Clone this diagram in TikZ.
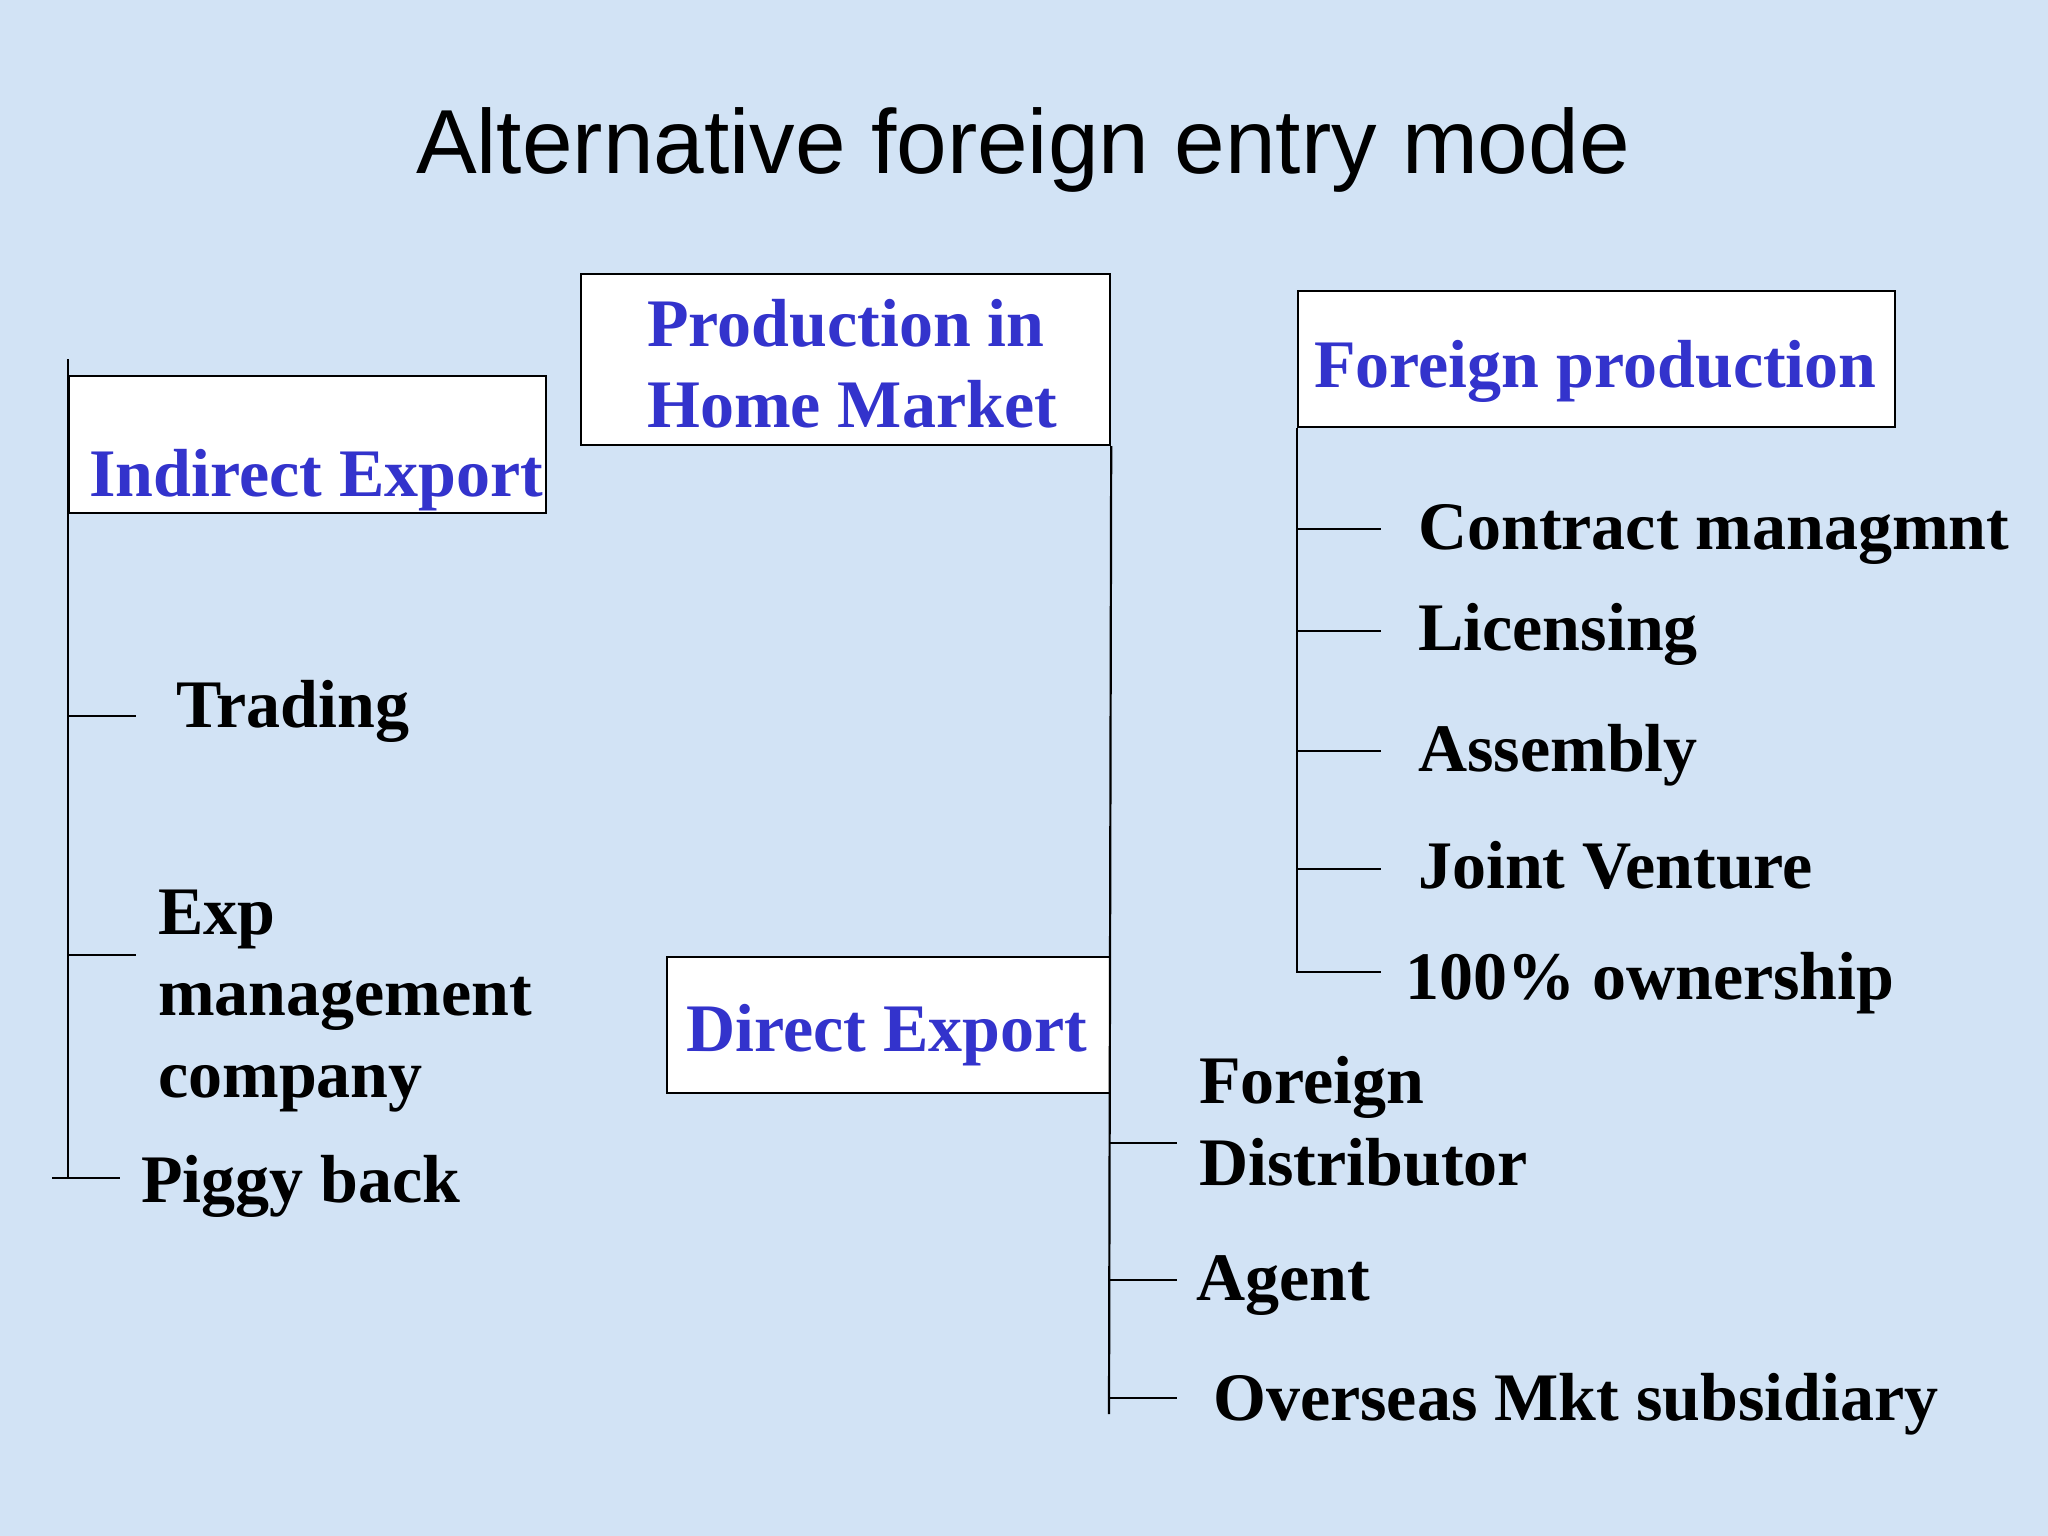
\documentclass[tikz,border=0pt]{standalone}
\usepackage{fontspec}
\setmainfont{Liberation Serif}
\newfontfamily\titlefont{Liberation Sans}
\definecolor{bluetxt}{RGB}{51,51,204}
\definecolor{bgblue}{RGB}{210,227,245}
\begin{document}
\begin{tikzpicture}[x=1pt,y=-1pt,
  box/.style={draw=black, line width=2.2pt, fill=white, inner sep=0pt, anchor=north west},
  head/.style={text=bluetxt, font=\fontsize{68}{81}\selectfont\bfseries, inner sep=0pt, anchor=base},
  item/.style={font=\fontsize{68}{81.5}\selectfont\bfseries, inner sep=0pt, anchor=base west, align=left},
  conn/.style={line width=2.2pt, draw=black}]
\fill[bgblue] (0,0) rectangle (2048,1536);
\useasboundingbox (0,0) rectangle (2048,1536);

% title
\node[inner sep=0pt, anchor=base, font=\titlefont\fontsize{91}{100}\selectfont] (title) at (1023,174) {Alternative foreign entry mode};

% boxes
\node[box, minimum width=529pt, minimum height=171pt] (prodbox) at (580,273) {};
\node[box, minimum width=477pt, minimum height=137pt] (indbox) at (68,375) {};
\node[box, minimum width=443pt, minimum height=136pt] (dirbox) at (666,956) {};
\node[box, minimum width=597pt, minimum height=136pt] (forbox) at (1297,290) {};

% box texts
\node[head] (prod1) at (846,346) {Production in};
\node[head] (prod2) at (852,427) {Home Market};
\node[head, anchor=base west] (ind) at (89,496) {Indirect Export};
\node[head] (dir) at (887,1051) {Direct Export};
\node[head, anchor=base west] (forp) at (1314,387) {Foreign production};

% left tree
\coordinate (Ltop) at (68,359);
\coordinate (Lbot) at (68,1178);
\coordinate (t1a) at (68,716);   \coordinate (t1b) at (136,716);
\coordinate (t2a) at (68,955);   \coordinate (t2b) at (136,955);
\coordinate (t3a) at (52,1178);  \coordinate (t3b) at (120,1178);
\draw[conn] (Ltop) -- (Lbot);
\draw[conn] (t1a) -- (t1b);
\draw[conn] (t2a) -- (t2b);
\draw[conn] (t3a) -- (t3b);
\node[item] (trading) at (176,727) {Trading};
\node[item] (exp) at (158,1097) {Exp\\management\\company};
\node[item] (piggy) at (141,1202) {Piggy back};

% centre tree
\coordinate (Cbot) at (1109,1414);
\coordinate (c1a) at (1109,1143); \coordinate (c1b) at (1177,1143);
\coordinate (c2a) at (1109,1280); \coordinate (c2b) at (1177,1280);
\coordinate (c3a) at (1109,1398); \coordinate (c3b) at (1177,1398);
\draw[conn] (prodbox.south east) -- (Cbot);
\draw[conn] (c1a) -- (c1b);
\draw[conn] (c2a) -- (c2b);
\draw[conn] (c3a) -- (c3b);
\node[item] (fdist) at (1199,1185) {Foreign\\Distributor};
\node[item] (agent) at (1196,1300) {Agent};
\node[item] (overseas) at (1213,1420) {Overseas Mkt subsidiary};

% right tree
\coordinate (Rbot) at (1297,972);
\coordinate (r1a) at (1297,529); \coordinate (r1b) at (1381,529);
\coordinate (r2a) at (1297,631); \coordinate (r2b) at (1381,631);
\coordinate (r3a) at (1297,751); \coordinate (r3b) at (1381,751);
\coordinate (r4a) at (1297,869); \coordinate (r4b) at (1381,869);
\coordinate (r5b) at (1381,972);
\draw[conn] (forbox.south west) -- (Rbot) -- (r5b);
\draw[conn] (r1a) -- (r1b);
\draw[conn] (r2a) -- (r2b);
\draw[conn] (r3a) -- (r3b);
\draw[conn] (r4a) -- (r4b);
\node[item] (contract) at (1418,549) {Contract managmnt};
\node[item] (lic) at (1418,650) {Licensing};
\node[item] (asm) at (1418,771) {Assembly};
\node[item] (jv) at (1418,888) {Joint Venture};
\node[item] (own) at (1405,999) {100\% ownership};
\end{tikzpicture}
\end{document}
